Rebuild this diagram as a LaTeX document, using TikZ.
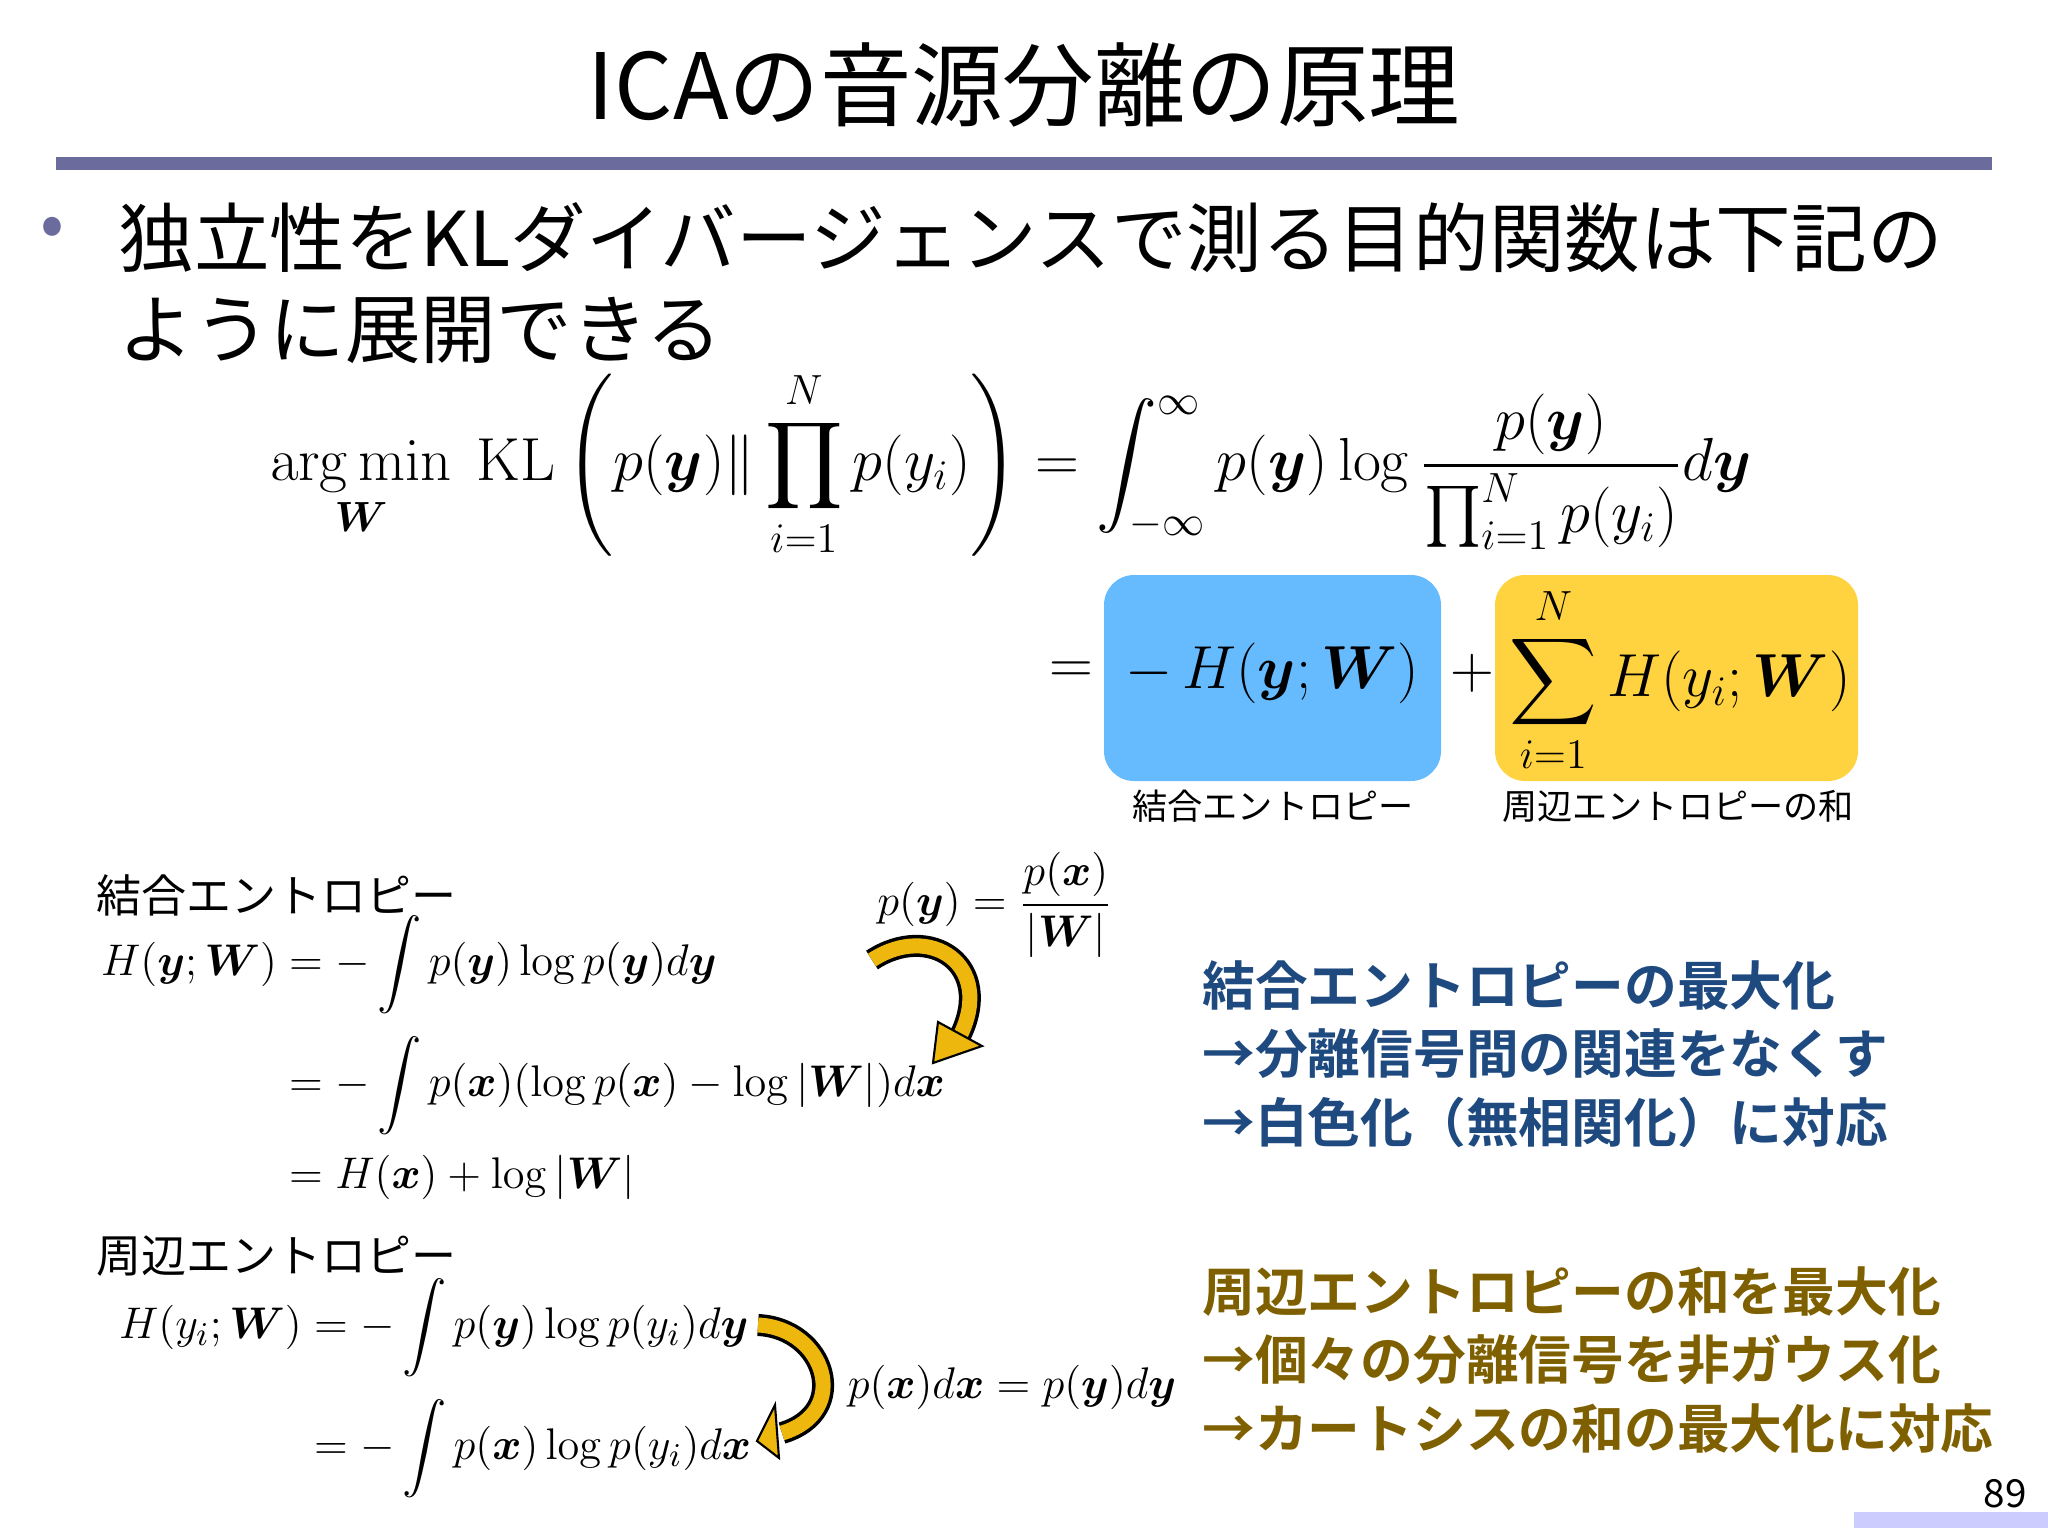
\documentclass[tikz,border=0pt]{standalone}
\usepackage{amsmath,bm}
\usepackage[no-math]{fontspec}
\setmainfont{Noto Sans CJK JP}
\newfontfamily\jp{Noto Sans CJK JP}
\newfontfamily\jpb{Noto Sans CJK JP Bold}
\definecolor{rulec}{HTML}{6B6B9E}
\definecolor{boxblue}{HTML}{66BBFF}
\definecolor{boxyel}{HTML}{FFD23F}
\definecolor{txtblue}{HTML}{1F4A80}
\definecolor{txtgold}{HTML}{7F6000}
\definecolor{arrowy}{HTML}{EDB70E}
\definecolor{pagebar}{HTML}{CCCCFF}
\tikzset{
  title/.style={font=\jp\fontsize{26}{30}\selectfont},
  body/.style={font=\jp\fontsize{21.5}{26}\selectfont, align=left},
  small/.style={font=\jp\fontsize{10}{12}\selectfont},
  sect/.style={font=\jp\fontsize{12.8}{15}\selectfont},
  big/.style={font=\fontsize{18.7}{22}\selectfont},
  mid/.style={font=\fontsize{13}{15}\selectfont, scale=1.05, transform shape},
  note/.style={font=\jpb\fontsize{15}{19.5}\selectfont, align=left},
  ebox/.style={rounded corners=0.3cm},
}
\begin{document}
\begin{tikzpicture}[x=0.01cm,y=-0.01cm]
\useasboundingbox (0,0) rectangle (2048,1536);
\node[title] (t) at (1024,85) {ICAの音源分離の原理};
\fill[rulec] (56,157) rectangle (1992,170);
\node[text=rulec, font=\fontsize{20}{24}\selectfont] (bul) at (52,232) {\textbullet};
\node[body, anchor=north west] (b1) at (106,190) {独立性をKLダイバージェンスで測る目的関数は下記の\\ように展開できる};
% main equation
\node[big, anchor=west] (eq1) at (258,464) {$\displaystyle \mathop{\mathrm{arg\,min}}\limits_{\bm W}\ \mathrm{KL}\left(p(\bm y)\|\prod_{i=1}^{N} p(y_i)\right) = \int_{-\infty}^{\infty} p(\bm y)\log\frac{p(\bm y)}{\prod_{i=1}^{N} p(y_i)}d\bm y$};
\fill[boxblue,ebox] (1104,575) rectangle (1441,781);
\fill[boxyel,ebox] (1495,575) rectangle (1858,781);
\node[big] (eq2a) at (1071,673) {$=$};
\node[big] (eq2b) at (1272,673) {$\displaystyle -\,H(\bm y;\bm W)$};
\node[big] (eq2c) at (1472,673) {$+$};
\node[big] (eq2d) at (1680,680) {$\displaystyle \sum_{i=1}^{N} H(y_i;\bm W)$};
\node[small] (l1) at (1273,806) {結合エントロピー};
\node[small] (l2) at (1678,806) {周辺エントロピーの和};
% left block 1
\node[sect, anchor=west] (s1) at (84,895) {結合エントロピー};
\node[mid, anchor=west] (e1) at (88,1060) {$\begin{aligned} H(\bm y;\bm W) &= -\int p(\bm y)\log p(\bm y)d\bm y\\[2pt] &= -\int p(\bm x)(\log p(\bm x)-\log|\bm W|)d\bm x\\ &= H(\bm x)+\log|\bm W|\end{aligned}$};
\node[mid] (f1) at (995,905) {$p(\bm y)=\dfrac{p(\bm x)}{|\bm W|}$};
\draw[line width=0.22cm] (872,960) .. controls (930,922) and (995,965) .. (960,1036);
\draw[line width=0.15cm, arrowy] (872,960) .. controls (930,922) and (995,965) .. (960,1036);
\filldraw[fill=arrowy, draw=black, line width=0.6pt] (982,1046) -- (933,1063) -- (938,1022) -- cycle;
% left block 2
\node[sect, anchor=west] (s2) at (84,1256) {周辺エントロピー};
\node[mid, anchor=west] (e2) at (106,1388) {$\begin{aligned} H(y_i;\bm W) &= -\int p(\bm y)\log p(y_i)d\bm y\\[2pt] &= -\int p(\bm x)\log p(y_i)d\bm x\end{aligned}$};
\draw[line width=0.22cm] (758,1325) .. controls (825,1328) and (852,1412) .. (782,1433);
\draw[line width=0.15cm, arrowy] (758,1325) .. controls (825,1328) and (852,1412) .. (782,1433);
\filldraw[fill=arrowy, draw=black, line width=0.6pt] (775,1405) -- (757,1441) -- (779,1458) -- cycle;
\node[mid] (f2) at (1012,1387) {$p(\bm x)d\bm x = p(\bm y)d\bm y$};
% notes
\node[note, text=txtblue, anchor=north west] (n1) at (1190,948) {結合エントロピーの最大化\\→分離信号間の関連をなくす\\→白色化（無相関化）に対応};
\node[note, text=txtgold, anchor=north west] (n2) at (1190,1254) {周辺エントロピーの和を最大化\\→個々の分離信号を非ガウス化\\→カートシスの和の最大化に対応};
% page
\fill[pagebar] (1854,1512) rectangle (2048,1528);
\node[font=\fontsize{11}{13}\selectfont\jp] (pg) at (2005,1494) {89};
\end{tikzpicture}
\end{document}
